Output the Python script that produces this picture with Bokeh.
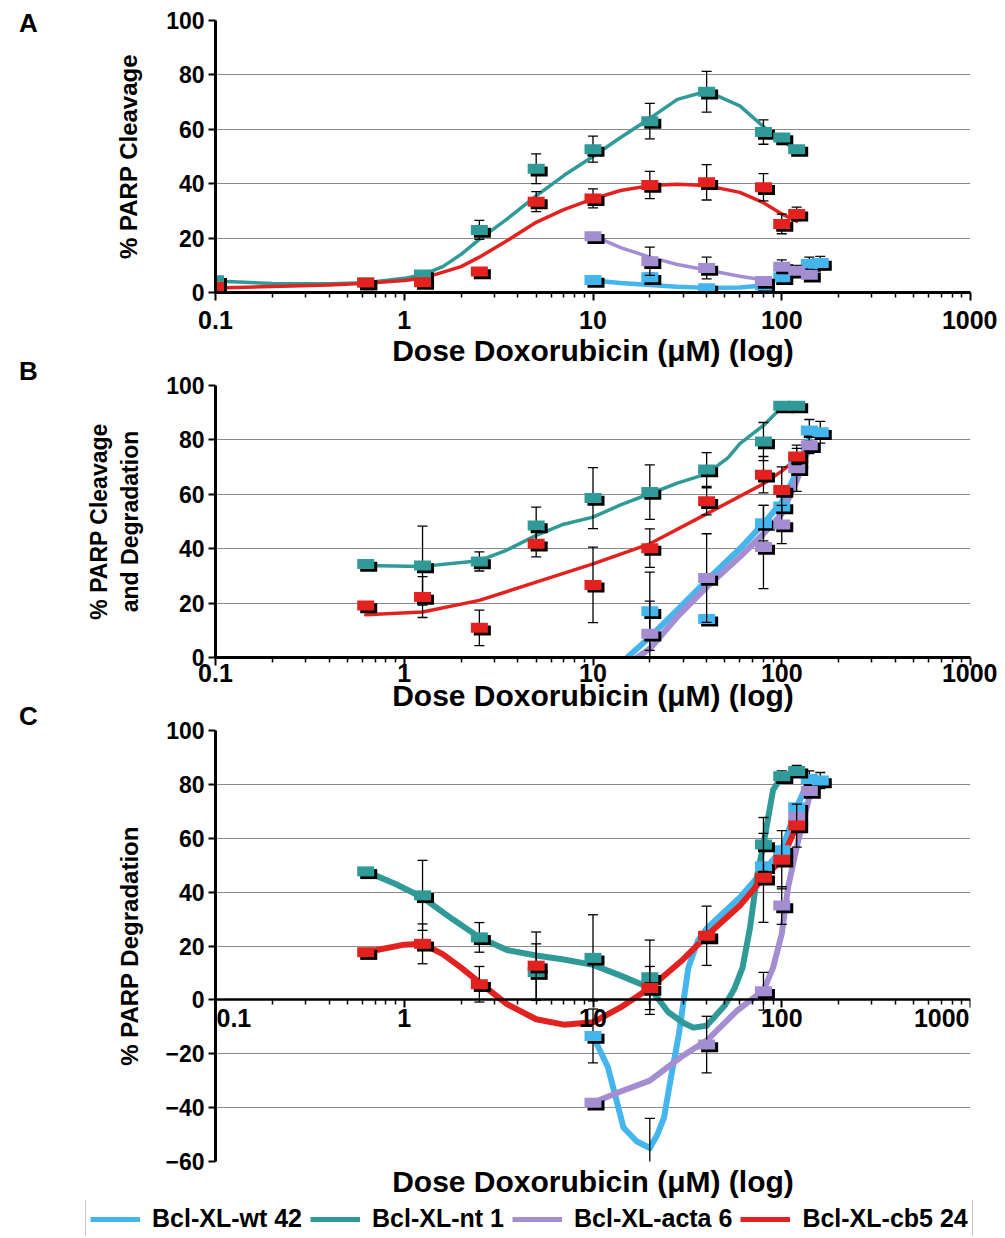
import math
from bokeh.plotting import figure
from bokeh.layouts import column, row
from bokeh.models import (Range1d, FixedTicker, CustomJSTickFormatter,
                          Title, Legend, LegendItem)
from bokeh.embed import file_html
from bokeh.resources import INLINE
from bokeh.core.properties import value

FONT = "Liberation Sans"

# ---------------- axes / texts ----------------
x_ticks = [0.1, 1, 10, 100, 1000]
x_tick_labels = ["0.1", "1", "10", "100", "1000"]
y_ticks_ab = [0, 20, 40, 60, 80, 100]
y_ticks_c = [-60, -40, -20, 0, 20, 40, 60, 80, 100]
x_title = "Dose Doxorubicin (\u03bcM) (log)"
y_title_a = "% PARP Cleavage"
y_title_b = "% PARP Cleavage\nand Degradation"
y_title_c = "% PARP Degradation"
panel_letters = ["A", "B", "C"]
series_names = ["Bcl-XL-wt 42", "Bcl-XL-nt 1", "Bcl-XL-acta 6", "Bcl-XL-cb5 24"]
series_colors = ["#45b5ee", "#2f9a97", "#a58dd2", "#e3221f"]

# ---------------- Panel A : measured points ----------------
a_wt_x = [10, 20, 40, 80, 100, 140, 160]
a_wt_y = [4.6, 5.6, 1.6, 2.6, 5.6, 10.5, 10.8]
a_wt_e = [1.0, 1.5, 0, 0, 1.5, 2.5, 2.5]
a_nt_x = [0.1, 0.625, 1.25, 2.5, 5, 10, 20, 40, 80, 100, 120]
a_nt_y = [4.5, 3.7, 6.6, 23, 45.5, 52.7, 63, 73.8, 59, 57, 52.7]
a_nt_e = [0, 0, 0, 3.5, 5.5, 4.8, 6.5, 7.5, 4.5, 0, 0]
a_acta_x = [10, 20, 40, 80, 100, 120, 140]
a_acta_y = [20.7, 11.5, 9, 4.2, 9.5, 8, 6.5]
a_acta_e = [0, 5.2, 4, 0, 2.5, 2, 2]
a_cb5_x = [0.1, 0.625, 1.25, 2.5, 5, 10, 20, 40, 80, 100, 120]
a_cb5_y = [2, 3.7, 3.8, 7.7, 33.4, 34.6, 39.5, 40.5, 38.7, 25.2, 28.9]
a_cb5_e = [0, 0, 0, 0, 3.7, 3.5, 5, 6.5, 5, 3.6, 2.5]

# Panel A : fitted curves
a_wt_fit_x = [10, 14, 20, 28, 40, 60, 80, 90]
a_wt_fit_y = [4.4, 3.5, 2.8, 2.1, 1.7, 1.8, 2.6, 3.5]
a_nt_fit_x = [0.1, 0.2, 0.4, 0.625, 1, 1.25, 1.6, 2, 2.5, 3.5, 5, 7, 10, 14, 20, 28, 40, 60, 80, 100, 120]
a_nt_fit_y = [4.2, 3.3, 3.2, 3.6, 5.2, 6.5, 9.5, 14, 19.5, 27, 35.5, 43, 50, 57, 64, 71, 74, 68.6, 61, 55.8, 52.4]
a_acta_fit_x = [10, 14, 20, 28, 40, 60, 80, 90]
a_acta_fit_y = [20.9, 16.5, 13, 10.3, 8.3, 6, 4.6, 4.2]
a_cb5_fit_x = [0.1, 0.2, 0.4, 0.625, 1, 1.25, 2, 2.5, 3.5, 5, 7, 10, 14, 20, 28, 40, 60, 80, 100, 120]
a_cb5_fit_y = [1.7, 2.2, 2.8, 3.4, 4.4, 5.2, 9.5, 13, 19, 25.8, 30.5, 34.4, 37.5, 39.3, 39.8, 39.3, 36.8, 33, 28.9, 26.2]

# ---------------- Panel B : measured points ----------------
b_wt_x = [20, 40, 80, 100, 120, 140, 160]
b_wt_y = [17, 14.2, 49.4, 55.5, 72.2, 83.5, 82.8]
b_wt_e = [14.4, 0, 6.5, 0, 0, 4, 4]
b_nt_x = [0.625, 1.25, 2.5, 5, 10, 20, 40, 80, 100, 120]
b_nt_y = [34.4, 33.8, 35.3, 48.5, 58.6, 60.8, 69.1, 79.4, 92.6, 92.6]
b_nt_e = [0, 14.5, 3.5, 6.8, 11.2, 10, 6.2, 7, 0, 0]
b_acta_x = [20, 40, 80, 100, 120, 140]
b_acta_y = [8.7, 29.2, 40.6, 48.9, 69.6, 78]
b_acta_e = [12, 16.3, 15.3, 7, 8.5, 3]
b_cb5_x = [0.625, 1.25, 2.5, 5, 10, 20, 40, 80, 100, 120]
b_cb5_y = [19.1, 22.2, 10.9, 41.8, 26.7, 40.2, 57.4, 67.2, 61.6, 73.9]
b_cb5_e = [0, 7.5, 6.5, 4.8, 13.9, 7.1, 5, 6.7, 8.5, 3]

# Panel B : fitted curves
b_wt_fit_x = [15.2, 20, 28, 40, 60, 80, 100, 120, 140]
b_wt_fit_y = [0, 7.5, 17.5, 28.3, 40, 49.2, 57.1, 68.1, 81]
b_nt_fit_x = [0.625, 1.25, 2.5, 3.5, 5, 7, 10, 14, 20, 28, 40, 52, 60, 80, 100, 120]
b_nt_fit_y = [33.8, 33.5, 35.6, 39.5, 44.9, 49, 51.6, 56.1, 60.2, 64.1, 67.5, 73.5, 78.6, 85.3, 92, 92.6]
b_acta_fit_x = [17.1, 20, 28, 40, 60, 80, 100, 120, 140]
b_acta_fit_y = [0, 3.2, 15, 25.9, 37, 45.5, 52.8, 65, 77.3]
b_cb5_fit_x = [0.625, 1.25, 2.5, 5, 10, 20, 40, 80, 100, 120]
b_cb5_fit_y = [15.7, 16.7, 21, 27.7, 34.4, 41.8, 52.8, 63.9, 68.5, 73]

# ---------------- Panel C : measured points ----------------
c_wt_x = [10, 20, 40, 80, 100, 120, 140, 160]
c_wt_y = [-13.4, -63, 23.5, 49.6, 55.5, 71.5, 82, 81.4]
c_wt_e = [10, 19, 0, 0, 0, 0, 3, 3]
c_nt_x = [0.625, 1.25, 2.5, 5, 10, 20, 80, 100, 120]
c_nt_y = [47.7, 38.8, 23.2, 10.3, 15.6, 8.4, 57.7, 83, 85]
c_nt_e = [0, 13, 5.5, 10.5, 16, 13.8, 10, 2, 2]
c_acta_x = [10, 40, 80, 100, 120, 140]
c_acta_y = [-38.2, -16.6, 3.2, 35, 67.9, 77.5]
c_acta_e = [0, 10.5, 7, 7, 0, 0]
c_cb5_x = [0.625, 1.25, 2.5, 5, 20, 40, 80, 100, 120]
c_cb5_y = [17.7, 20.8, 5.8, 12.7, 4.4, 23.8, 45.3, 52, 64.7]
c_cb5_e = [0, 7.4, 6.6, 12.5, 8, 11, 16.5, 10.8, 8]

# Panel C : fitted curves
c_wt_fit_x = [10, 12, 14.5, 17, 20, 22, 23.8, 26, 28.5, 32, 36, 40, 60, 80, 100, 120, 140]
c_wt_fit_y = [-13.4, -25, -47.4, -52.5, -55, -49.8, -43.6, -28, -12.8, 12, 22, 26.5, 38, 48, 55.5, 71.5, 82]
c_nt_fit_x = [0.625, 0.9, 1.25, 1.8, 2.5, 3.5, 5, 7, 10, 14, 20, 25, 30, 34, 40, 50, 56, 62, 68, 74, 80, 90, 100, 120]
c_nt_fit_y = [47.7, 43, 38, 30, 23.2, 18.5, 16.5, 15, 13, 9, 4.5, -4.5, -8.5, -10.3, -9.6, -2, 4, 12, 27, 46, 57.7, 78, 83, 84.5]
c_acta_fit_x = [10, 14, 20, 29, 40, 58, 80, 90, 100, 108, 120, 140, 150]
c_acta_fit_y = [-38.2, -34, -30, -21.4, -15.1, -4, 3.5, 12, 24.5, 41.8, 56.7, 75.3, 77.7]
c_cb5_fit_x = [0.625, 1, 1.25, 1.6, 2, 2.5, 3.5, 5, 7, 10, 14, 20, 30, 40, 60, 80, 100, 120]
c_cb5_fit_y = [17.7, 20.5, 20.8, 17, 12, 6.5, -1.6, -7.2, -9.2, -8.3, -2.8, 4.4, 15, 23.8, 35, 45.3, 52, 64.7]

# ---------------- helpers ----------------
minor_ticks = [m * 10.0 ** e for e in range(-1, 3) for m in range(2, 10)]
tick_fmt = CustomJSTickFormatter(
    args=dict(tick_values=x_ticks, tick_texts=x_tick_labels),
    code="""
    for (let i = 0; i < tick_values.length; i++) {
        if (Math.abs(tick_values[i] - tick) < 1e-6 * tick_values[i]) { return tick_texts[i]; }
    }
    return '';
    """)
SHADOW_X = 10 ** (3 / 188.75)
BG = "white"
LETTER_W = 48
PANEL_W = 949
XLABEL_SIZE = "25px"
XTITLE_SIZE = "30px"


def no_align(p):
    if "frame_align" in p.properties():
        p.frame_align = False


def make_fig(height, top, bottom, y0, y1, yticks, ylabel):
    p = figure(width=PANEL_W, height=height, x_axis_type="log",
               x_range=Range1d(0.1, 1000), y_range=Range1d(y0, y1),
               output_backend="svg", toolbar_location=None,
               min_border_left=167, min_border_right=27,
               min_border_top=top, min_border_bottom=bottom)
    p.background_fill_color = BG
    p.border_fill_color = BG
    p.outline_line_color = None
    p.xgrid.visible = False
    p.ygrid.grid_line_color = "#8a8a8a"
    p.ygrid.grid_line_width = 1
    ya = p.yaxis[0]
    ya.ticker = FixedTicker(ticks=yticks)
    ya.minor_tick_line_color = None
    ya.axis_line_width = 3
    ya.axis_line_color = "black"
    ya.major_tick_out = 7
    ya.major_tick_in = 0
    ya.major_tick_line_width = 2
    ya.major_label_text_font = FONT
    ya.major_label_text_font_size = "23px"
    ya.major_label_text_font_style = "bold"
    ya.major_label_text_color = "black"
    ya.major_label_standoff = 4
    ya.axis_label = ylabel
    ya.axis_label_text_font = FONT
    ya.axis_label_text_font_size = "24px"
    ya.axis_label_text_font_style = "bold"
    ya.axis_label_text_color = "black"
    ya.axis_label_standoff = 21
    xa = p.xaxis[0]
    xa.ticker = FixedTicker(ticks=x_ticks, minor_ticks=minor_ticks)
    xa.formatter = tick_fmt
    xa.axis_line_width = 3
    xa.axis_line_color = "black"
    xa.major_tick_out = 8
    xa.major_tick_in = 0
    xa.major_tick_line_width = 2
    xa.minor_tick_out = 5
    xa.minor_tick_in = 0
    xa.minor_tick_line_width = 1.5
    xa.major_label_text_font = FONT
    xa.major_label_text_font_size = XLABEL_SIZE
    xa.major_label_text_font_style = "bold"
    xa.major_label_text_color = "black"
    xa.major_label_standoff = 0
    xa.axis_label = x_title
    xa.axis_label_text_font = FONT
    xa.axis_label_text_font_size = XTITLE_SIZE
    xa.axis_label_text_font_style = "bold"
    xa.axis_label_text_color = "black"
    return p


def draw_panel(p, points, fits, widths, unit_px):
    for (fx, fy), color, w in zip(fits, series_colors, widths):
        p.line(fx, fy, line_color=color, line_width=w,
               line_join="round", line_cap="round")
    for (x, y, e), color in zip(points, series_colors):
        bx = [xi for xi, ei in zip(x, e) if ei > 0]
        lo = [yi - ei for yi, ei in zip(y, e) if ei > 0]
        hi = [yi + ei for yi, ei in zip(y, e) if ei > 0]
        p.segment(x0=bx, y0=lo, x1=bx, y1=hi, line_color="black", line_width=1.3)
        p.scatter(bx + bx, lo + hi, marker="dash", size=10,
                  line_color="black", line_width=1.3)
        sx = [xi * SHADOW_X for xi in x]
        sy = [yi - 2.7 / unit_px for yi in y]
        p.rect(sx, sy, width=17, height=10, width_units="screen",
               height_units="screen", fill_color="black", line_color=None)
        p.rect(x, y, width=17, height=10, width_units="screen",
               height_units="screen", fill_color=color, line_color=None)


# ---------------- Panel A ----------------
H_A, H_B, H_C = 370, 345, 485
pa = make_fig(H_A, 20, 78, 0, 100, y_ticks_ab, y_title_a)
pa.xaxis[0].major_label_standoff = 10
pa.xaxis[0].axis_label_standoff = 2
draw_panel(pa,
           [(a_wt_x, a_wt_y, a_wt_e), (a_nt_x, a_nt_y, a_nt_e),
            (a_acta_x, a_acta_y, a_acta_e), (a_cb5_x, a_cb5_y, a_cb5_e)],
           [(a_wt_fit_x, a_wt_fit_y), (a_nt_fit_x, a_nt_fit_y),
            (a_acta_fit_x, a_acta_fit_y), (a_cb5_fit_x, a_cb5_fit_y)],
           [4.5, 3.5, 3.5, 3.5], 2.72)

# ---------------- Panel B ----------------
pb = make_fig(H_B, 15, 58, 0, 100, y_ticks_ab, y_title_b)
pb.yaxis[0].axis_label_standoff = 20
pb.yaxis[0].axis_label_text_font_size = "23px"
pb.xaxis[0].major_label_standoff = -2
pb.xaxis[0].axis_label_standoff = -6
draw_panel(pb,
           [(b_wt_x, b_wt_y, b_wt_e), (b_nt_x, b_nt_y, b_nt_e),
            (b_acta_x, b_acta_y, b_acta_e), (b_cb5_x, b_cb5_y, b_cb5_e)],
           [(b_wt_fit_x, b_wt_fit_y), (b_nt_fit_x, b_nt_fit_y),
            (b_acta_fit_x, b_acta_fit_y), (b_cb5_fit_x, b_cb5_fit_y)],
           [6, 3.5, 6, 3.5], 2.72)

# ---------------- Panel C ----------------
pc = make_fig(H_C, 15, 39, -60, 100, y_ticks_c, y_title_c)
pc.yaxis[0].axis_label_standoff = 19
xc = pc.xaxis[0]
xc.axis_label = None
xc.fixed_location = 0
xc.axis_line_width = 2.5
xc.major_label_text_color = None
draw_panel(pc,
           [(c_wt_x, c_wt_y, c_wt_e), (c_nt_x, c_nt_y, c_nt_e),
            (c_acta_x, c_acta_y, c_acta_e), (c_cb5_x, c_cb5_y, c_cb5_e)],
           [(c_wt_fit_x, c_wt_fit_y), (c_nt_fit_x, c_nt_fit_y),
            (c_acta_fit_x, c_acta_fit_y), (c_cb5_fit_x, c_cb5_fit_y)],
           [6, 6, 6, 6], 2.69)
# tick labels along the zero line (edge labels kept inside the frame)
label_style = dict(y_offset=9, text_baseline="top", text_font=value(FONT),
                   text_font_size=XLABEL_SIZE, text_font_style="bold",
                   text_color="black")
pc.text(x=x_ticks[1:-1], y=[0] * (len(x_ticks) - 2), text=x_tick_labels[1:-1],
        text_align="center", **label_style)
pc.text(x=x_ticks[:1], y=[0], text=x_tick_labels[:1], text_align="left",
        x_offset=1, **label_style)
pc.text(x=x_ticks[-1:], y=[0], text=x_tick_labels[-1:], text_align="right",
        x_offset=-1, **label_style)
pc.add_layout(Title(text=x_title, align="center", text_font=FONT,
                    text_font_size=XTITLE_SIZE, text_font_style="bold",
                    text_color="black", standoff=2), "below")

# ---------------- panel letters (left strip) ----------------
H_TOTAL = H_A + H_B + H_C
letter_y = [22, 370, 715]  # layout: pixel rows from the top of the strip
pletters = figure(width=LETTER_W, height=H_TOTAL, x_range=Range1d(0, LETTER_W),
                  y_range=Range1d(H_TOTAL, 0), output_backend="svg",
                  toolbar_location=None, min_border=0,
                  x_axis_location=None, y_axis_location=None)
pletters.grid.visible = False
pletters.outline_line_color = None
pletters.background_fill_color = BG
pletters.border_fill_color = BG
no_align(pletters)
pletters.text(x=[28] * 3, y=letter_y, text=panel_letters,
              text_align="center", text_baseline="middle",
              text_font=value(FONT), text_font_size="26px",
              text_font_style="bold", text_color="black")

# ---------------- Legend strip ----------------
pl = figure(width=997, height=36, x_range=Range1d(0, 1), y_range=Range1d(0, 1),
            output_backend="svg", toolbar_location=None, min_border=0,
            x_axis_location=None, y_axis_location=None)
pl.grid.visible = False
pl.outline_line_color = None
pl.background_fill_color = BG
pl.border_fill_color = BG
no_align(pl)
# legend renderers reuse panel C curves; they lie outside this strip's ranges
leg_fits = [(c_wt_fit_x, c_wt_fit_y), (c_nt_fit_x, c_nt_fit_y),
            (c_acta_fit_x, c_acta_fit_y), (c_cb5_fit_x, c_cb5_fit_y)]
leg_renderers = [pl.line(fx, fy, line_color=c, line_width=5)
                 for (fx, fy), c in zip(leg_fits, series_colors)]
legend = Legend(items=[LegendItem(label=n, renderers=[r])
                       for n, r in zip(series_names, leg_renderers)],
                orientation="horizontal", location=(85, -2),
                label_text_font=FONT, label_text_font_size="25px",
                label_text_font_style="bold", label_text_color="black",
                glyph_width=50, glyph_height=20, label_standoff=12, spacing=8,
                padding=4, margin=0, border_line_color="#8a8a8a",
                border_line_width=1, background_fill_color="white")
pl.add_layout(legend)

layout = column(row(pletters, column(pa, pb, pc, spacing=0), spacing=0), pl, spacing=0)
open("out.html", "w").write(file_html(layout, INLINE))
